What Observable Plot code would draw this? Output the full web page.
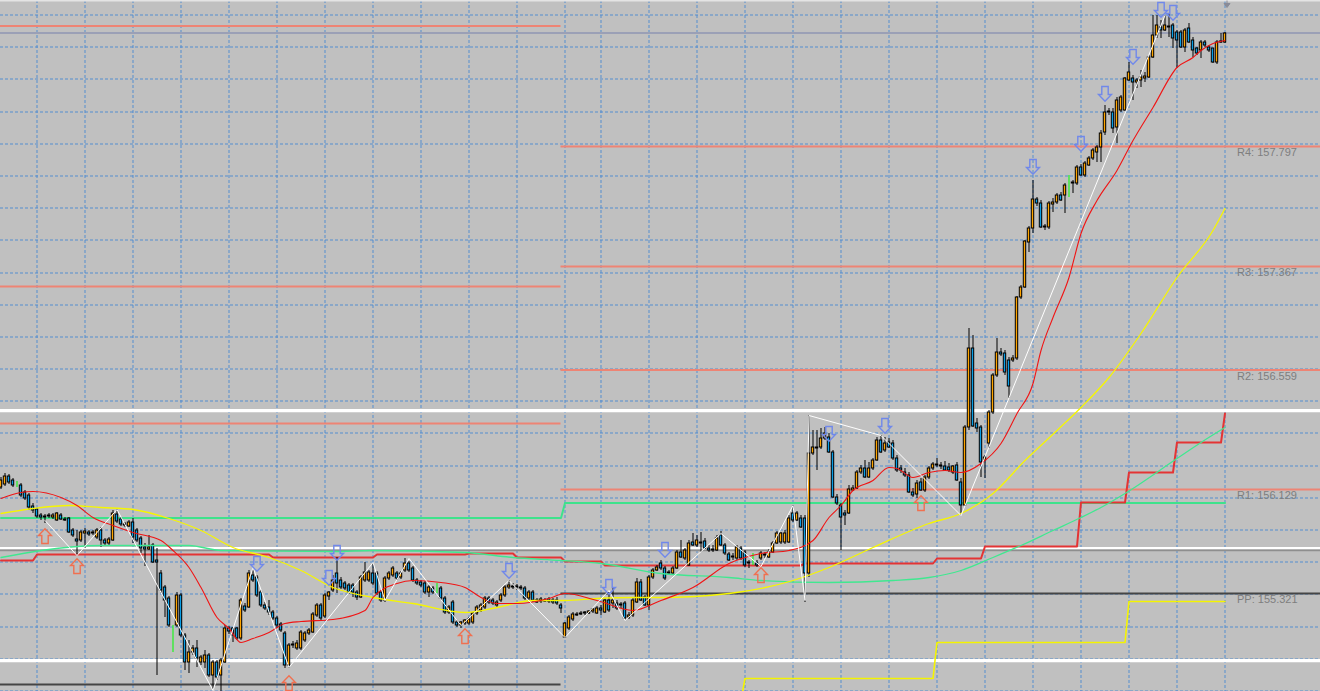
<!DOCTYPE html>
<html><head><meta charset="utf-8">
<script src="https://cdn.jsdelivr.net/npm/d3@7"></script>
<script src="https://cdn.jsdelivr.net/npm/@observablehq/plot@0.6"></script>
<style>html,body{margin:0;padding:0;background:#c0c0c0;overflow:hidden}#chart svg{display:block}</style>
</head><body><div id="chart"></div>
<script>
// ---- candle data (bar index = position in array) ----
const open = [
156.065,156.080,156.120,156.100,156.080,156.075,156.040,156.025,155.970,155.955,
155.925,155.915,155.920,155.915,155.900,155.925,155.905,155.910,155.850,155.805,
155.800,155.835,155.840,155.835,155.815,155.850,155.800,155.785,155.800,155.930,
155.905,155.880,155.870,155.890,155.850,155.810,155.765,155.755,155.775,155.700,
155.635,155.565,155.510,155.310,155.375,155.525,155.325,155.190,155.240,155.260,
155.190,155.190,155.225,155.125,155.190,155.125,155.190,155.360,155.360,155.360,
155.310,155.470,155.465,155.625,155.615,155.540,155.475,155.465,155.440,155.410,
155.380,155.335,155.175,155.280,155.260,155.260,155.300,155.335,155.340,155.425,
155.475,155.420,155.520,155.550,155.635,155.600,155.585,155.575,155.575,155.540,
155.515,155.600,155.600,155.635,155.635,155.540,155.500,155.610,155.625,155.635,
155.615,155.650,155.685,155.660,155.600,155.590,155.585,155.540,155.560,155.560,
155.560,155.510,155.440,155.490,155.390,155.375,155.385,155.385,155.390,155.435,
155.450,155.465,155.510,155.500,155.475,155.500,155.525,155.565,155.570,155.570,
155.565,155.560,155.510,155.540,155.500,155.495,155.500,155.505,155.500,155.500,
155.475,155.315,155.360,155.405,155.430,155.435,155.435,155.435,155.445,155.435,
155.460,155.440,155.500,155.485,155.485,155.475,155.485,155.415,155.425,155.490,
155.590,155.515,155.475,155.615,155.650,155.685,155.660,155.635,155.635,155.660,
155.740,155.710,155.675,155.790,155.775,155.790,155.795,155.760,155.755,155.750,
155.825,155.775,155.730,155.720,155.710,155.760,155.740,155.690,155.705,155.685,
155.710,155.730,155.715,155.740,155.785,155.790,155.790,155.790,155.935,155.900,
155.910,155.910,155.635,156.235,156.265,156.265,156.310,156.315,156.240,156.015,
155.975,155.935,155.935,156.050,156.060,156.140,156.160,156.115,156.160,156.200,
156.300,156.250,156.290,156.285,156.210,156.160,156.140,156.125,156.040,156.030,
156.090,156.050,156.115,156.160,156.180,156.175,156.170,156.165,156.140,156.175,
156.090,155.975,156.365,156.760,156.385,156.365,156.200,156.285,156.440,156.625,
156.740,156.735,156.700,156.700,156.710,157.015,157.065,157.290,157.360,157.505,
157.485,157.370,157.365,157.480,157.490,157.525,157.525,157.570,157.585,157.585,
157.665,157.625,157.675,157.710,157.740,157.765,157.840,157.940,157.940,157.865,
157.950,157.950,158.100,158.110,158.090,158.100,158.110,158.115,158.215,158.325,
158.365,158.350,158.365,158.375,158.340,158.340,158.265,158.360,158.300,158.260,
158.250,158.290,158.265,158.260,158.190,158.290,158.290];
const high = [
156.115,156.135,156.130,156.110,156.095,156.085,156.050,156.035,155.985,155.960,
155.935,155.930,155.935,155.935,155.940,155.935,155.915,155.915,155.860,155.850,
155.850,155.860,155.850,155.850,155.860,155.865,155.810,155.815,155.950,155.955,
155.915,155.890,155.900,155.910,155.860,155.820,155.785,155.825,155.785,155.760,
155.650,155.575,155.520,155.375,155.540,155.535,155.335,155.300,155.275,155.300,
155.225,155.250,155.235,155.200,155.200,155.210,155.375,155.370,155.365,155.365,
155.510,155.485,155.650,155.660,155.625,155.550,155.490,155.500,155.450,155.420,
155.390,155.345,155.285,155.295,155.300,155.350,155.345,155.360,155.440,155.485,
155.485,155.535,155.545,155.625,155.715,155.615,155.595,155.585,155.585,155.550,
155.625,155.690,155.650,155.685,155.645,155.550,155.620,155.645,155.670,155.645,
155.645,155.710,155.695,155.670,155.610,155.600,155.595,155.575,155.570,155.585,
155.570,155.520,155.475,155.500,155.400,155.395,155.405,155.415,155.440,155.475,
155.485,155.520,155.520,155.510,155.500,155.535,155.575,155.600,155.585,155.580,
155.575,155.570,155.550,155.550,155.510,155.515,155.510,155.515,155.510,155.515,
155.485,155.390,155.425,155.440,155.440,155.445,155.445,155.450,155.460,155.470,
155.475,155.510,155.540,155.560,155.500,155.490,155.495,155.440,155.510,155.610,
155.605,155.525,155.625,155.660,155.675,155.700,155.670,155.650,155.670,155.750,
155.800,155.760,155.800,155.835,155.825,155.840,155.810,155.775,155.775,155.825,
155.845,155.785,155.740,155.735,155.775,155.770,155.750,155.700,155.735,155.700,
155.745,155.740,155.755,155.795,155.845,155.840,155.850,155.925,155.975,155.945,
155.925,155.925,156.425,156.350,156.350,156.360,156.365,156.335,156.250,156.030,
155.985,155.950,156.075,156.075,156.150,156.175,156.200,156.190,156.210,156.315,
156.325,156.315,156.310,156.300,156.225,156.175,156.160,156.140,156.060,156.100,
156.110,156.125,156.170,156.190,156.210,156.190,156.195,156.185,156.175,156.190,
156.110,156.375,156.860,156.825,156.410,156.375,156.225,156.450,156.635,156.810,
156.760,156.750,156.715,156.725,157.020,157.075,157.300,157.370,157.600,157.515,
157.500,157.380,157.495,157.510,157.535,157.540,157.585,157.625,157.600,157.675,
157.680,157.695,157.720,157.760,157.775,157.850,157.975,157.960,157.960,158.015,
158.025,158.115,158.190,158.125,158.110,158.150,158.140,158.225,158.425,158.425,
158.400,158.425,158.435,158.385,158.350,158.350,158.360,158.385,158.315,158.265,
158.300,158.300,158.275,158.260,158.300,158.335,158.340];
const low = [
156.055,156.070,156.080,156.065,156.065,156.015,156.000,155.950,155.935,155.910,
155.900,155.885,155.910,155.905,155.895,155.900,155.895,155.835,155.815,155.725,
155.790,155.760,155.820,155.825,155.805,155.765,155.775,155.775,155.795,155.885,
155.870,155.865,155.865,155.785,155.790,155.735,155.670,155.750,155.685,155.125,
155.535,155.415,155.365,155.240,155.365,155.315,155.150,155.135,155.225,155.165,
155.175,155.160,155.115,155.050,155.100,155.045,155.185,155.330,155.290,155.300,
155.300,155.440,155.460,155.590,155.515,155.465,155.450,155.425,155.400,155.360,
155.340,155.160,155.160,155.260,155.250,155.250,155.290,155.325,155.335,155.415,
155.400,155.410,155.500,155.540,155.535,155.555,155.550,155.530,155.515,155.500,
155.510,155.590,155.590,155.575,155.525,155.490,155.490,155.600,155.615,155.600,
155.605,155.640,155.640,155.590,155.575,155.565,155.530,155.515,155.530,155.535,
155.500,155.430,155.430,155.380,155.365,155.360,155.375,155.375,155.380,155.425,
155.440,155.455,155.480,155.475,155.465,155.490,155.515,155.555,155.555,155.550,
155.550,155.500,155.500,155.490,155.485,155.485,155.490,155.485,155.480,155.475,
155.435,155.310,155.350,155.395,155.420,155.425,155.425,155.430,155.435,155.430,
155.425,155.435,155.440,155.460,155.450,155.460,155.400,155.405,155.415,155.485,
155.495,155.470,155.450,155.605,155.645,155.650,155.600,155.625,155.625,155.655,
155.710,155.700,155.670,155.770,155.765,155.740,155.755,155.740,155.740,155.745,
155.770,155.725,155.695,155.700,155.700,155.700,155.665,155.660,155.675,155.665,
155.700,155.710,155.710,155.735,155.780,155.780,155.780,155.785,155.890,155.895,
155.860,155.490,155.615,156.225,156.150,156.255,156.300,156.235,156.010,155.975,
155.750,155.875,155.930,156.045,156.055,156.130,156.110,156.110,156.150,156.195,
156.235,156.240,156.260,156.200,156.140,156.135,156.115,156.035,156.015,156.010,
156.045,156.040,156.105,156.150,156.165,156.155,156.145,156.140,156.130,156.095,
155.925,155.970,156.350,156.365,156.340,156.115,156.110,156.260,156.430,156.615,
156.720,156.625,156.510,156.690,156.700,157.005,157.060,157.240,157.335,157.470,
157.360,157.350,157.355,157.440,157.480,157.495,157.435,157.515,157.535,157.575,
157.620,157.615,157.670,157.700,157.690,157.690,157.825,157.925,157.835,157.785,
157.940,157.945,158.095,158.000,158.060,158.065,158.090,158.110,158.210,158.310,
158.310,158.345,158.315,158.260,158.160,158.260,158.240,158.285,158.215,158.225,
158.210,158.265,158.240,158.185,158.180,158.285,158.285];
const close = [
156.100,156.120,156.090,156.075,156.080,156.025,156.010,155.965,155.950,155.920,
155.915,155.920,155.925,155.925,155.935,155.905,155.900,155.840,155.825,155.795,
155.840,155.845,155.830,155.840,155.850,155.800,155.785,155.805,155.935,155.895,
155.880,155.875,155.890,155.815,155.800,155.760,155.755,155.765,155.690,155.690,
155.550,155.500,155.375,155.310,155.525,155.325,155.190,155.240,155.260,155.210,
155.215,155.225,155.125,155.190,155.115,155.200,155.360,155.345,155.325,155.310,
155.500,155.450,155.635,155.600,155.525,155.475,155.460,155.440,155.410,155.375,
155.350,155.175,155.275,155.275,155.285,155.340,155.335,155.350,155.430,155.475,
155.410,155.525,155.540,155.600,155.585,155.565,155.560,155.540,155.540,155.515,
155.615,155.640,155.640,155.585,155.535,155.500,155.610,155.635,155.660,155.610,
155.635,155.685,155.650,155.600,155.585,155.575,155.540,155.565,155.540,155.560,
155.510,155.440,155.465,155.390,155.375,155.390,155.400,155.405,155.435,155.465,
155.475,155.510,155.490,155.485,155.490,155.525,155.565,155.575,155.565,155.565,
155.560,155.510,155.540,155.500,155.490,155.505,155.495,155.495,155.490,155.485,
155.460,155.385,155.415,155.430,155.425,155.430,155.440,155.445,155.455,155.460,
155.450,155.500,155.450,155.500,155.460,155.480,155.410,155.425,155.500,155.590,
155.500,155.475,155.615,155.650,155.665,155.660,155.610,155.640,155.660,155.740,
155.715,155.750,155.785,155.775,155.800,155.785,155.760,155.750,155.750,155.810,
155.775,155.735,155.700,155.715,155.765,155.710,155.675,155.685,155.705,155.675,
155.735,155.725,155.740,155.785,155.835,155.835,155.835,155.910,155.900,155.935,
155.865,155.635,156.235,156.265,156.260,156.310,156.335,156.240,156.015,155.985,
155.915,155.925,156.055,156.060,156.140,156.160,156.115,156.160,156.200,156.300,
156.240,156.285,156.265,156.210,156.150,156.150,156.125,156.040,156.025,156.085,
156.050,156.115,156.160,156.180,156.175,156.170,156.150,156.150,156.170,156.100,
155.975,156.365,156.760,156.370,156.360,156.190,156.215,156.440,156.625,156.740,
156.730,156.640,156.570,156.710,157.015,157.065,157.295,157.360,157.505,157.485,
157.365,157.365,157.485,157.490,157.525,157.500,157.575,157.570,157.590,157.665,
157.625,157.685,157.710,157.750,157.765,157.835,157.940,157.945,157.860,158.000,
158.015,158.110,158.140,158.090,158.100,158.115,158.120,158.215,158.325,158.375,
158.350,158.375,158.370,158.310,158.300,158.265,158.350,158.290,158.250,158.235,
158.290,158.275,158.250,158.190,158.290,158.295,158.335];

// ---- indicator lines: [bar, price] ----
const redMA = [[0,156.010],[5,156.040],[8,156.045],[15,156.015],[19,155.975],[23,155.915],[28,155.875],[33,155.840],[40,155.800],[43,155.750],[47,155.665],[50,155.565],[54,155.415],[57,155.360],[60,155.290],[63,155.310],[67,155.340],[71,155.385],[75,155.395],[83,155.405],[91,155.450],[93,155.515],[99,155.585],[103,155.600],[110,155.590],[116,155.565],[120,155.515],[124,155.485],[129,155.485],[137,155.510],[141,155.535],[149,155.500],[158,155.450],[165,155.500],[173,155.565],[182,155.685],[190,155.735],[197,155.750],[203,155.800],[207,155.915],[210,155.975],[213,156.050],[218,156.100],[222,156.165],[224,156.160],[228,156.115],[232,156.140],[236,156.150],[240,156.140],[245,156.185],[250,156.285],[254,156.435],[258,156.585],[260,156.750],[263,156.915],[267,157.115],[270,157.335],[274,157.500],[279,157.650],[283,157.800],[288,157.965],[294,158.165],[298,158.215],[300,158.250],[303,158.285],[306,158.300]];
const yellowMA = [[0,155.935],[8,155.960],[17,155.975],[25,155.965],[33,155.955],[42,155.910],[50,155.850],[58,155.765],[67,155.715],[75,155.650],[83,155.565],[93,155.515],[103,155.485],[116,155.440],[124,155.465],[133,155.500],[141,155.500],[149,155.510],[158,155.515],[165,155.515],[182,155.535],[198,155.600],[207,155.665],[218,155.765],[232,155.885],[240,155.935],[248,156.035],[256,156.200],[264,156.350],[270,156.465],[277,156.615],[285,156.835],[294,157.115],[303,157.350],[306,157.460]];
const greenMA = [[0,155.715],[10,155.750],[25,155.775],[47,155.775],[55,155.750],[83,155.745],[93,155.750],[116,155.740],[128,155.715],[140,155.700],[150,155.685],[165,155.635],[182,155.615],[190,155.600],[207,155.590],[223,155.600],[232,155.615],[240,155.650],[248,155.715],[255,155.775],[263,155.850],[270,155.915],[275,155.965],[281,156.035],[294,156.210],[300,156.290],[306,156.365]];
const redStep = [[0,155.700],[8,155.700],[9,155.730],[67,155.730],[68,155.715],[93,155.715],[94,155.730],[116,155.730],[117,155.735],[128,155.735],[129,155.715],[140,155.715],[141,155.695],[150,155.695],[151,155.675],[200,155.675],[201,155.685],[233,155.685],[234,155.710],[245,155.710],[246,155.770],[269,155.770],[270,155.990],[281,155.990],[282,156.140],[293,156.140],[294,156.290],[305,156.290],[306,156.435]];
const yellowStep = [[185,155.000],[186,155.110],[233,155.110],[234,155.290],[281,155.290],[282,155.495],[306,155.495]];
const zigzag = [[11,155.900],[19,155.725],[29,155.955],[53,155.050],[63,155.665],[72,155.165],[93,155.690],[96,155.500],[102,155.710],[115,155.375],[127,155.600],[141,155.315],[152,155.550],[156,155.400],[180,155.835],[190,155.670],[198,155.975],[201,155.500],[202,156.425],[220,156.325],[240,155.925],[291,158.425]];
const downArrows = [[64,155.680],[82,155.610],[84,155.735],[127,155.645],[152,155.565],[166,155.750],[207,156.330],[221,156.370],[258,157.665],[270,157.780],[276,158.030],[283,158.215],[290,158.450],[293,158.435]];
const upArrows = [[11,155.825],[19,155.675],[72,155.090],[116,155.325],[190,155.630],[230,155.990]];

// ---- horizontal levels ----
const sessionBreak = 140;             // bar where the current pivot set begins
const leftRed = [158.372, 157.070, 156.385];
const leftPP = 155.080;
const rightRed = [157.770, 157.170, 156.653, 156.055];
const rightPP = 155.535;
const greenPivot = [[0,155.912],[140,155.912],[141,155.987],[306,155.987]];
const grayTop = 158.337;
const whiteWide = [156.449, 155.199];
const whiteMid = 155.762;
const grayUnder = 155.750;
const pivotNames = ["R4: 157.797","R3: 157.367","R2: 156.559","R1: 156.129","PP: 155.321"];
const pivotLevels = [157.770, 157.170, 156.653, 156.055, 155.535];

// ---- grid ----
const gridBars = [9,21,33,45,57,69,81,93,105,117,129,141,150,162,174,186,198,210,222,234,246,258,270,282,294,306];
const gridPrices = [158.4275,158.2675,158.1075,157.9425,157.7825,157.6225,157.4625,157.3025,157.1375,156.9775,156.8175,156.6575,156.4975,156.3375,156.1725,156.0125,155.8525,155.6925,155.5325,155.3675,155.2075,155.0475];

const bars = open.map((o,i)=>({i, o, h:high[i], l:low[i], c:close[i]}));
const lastBar = bars.length - 1;
const bodies = bars.filter(d => d.o !== d.c);
const BULL = "#ffa500", BEAR = "#0a9ee6";
const yDomain = [155.045, 158.5];

const downSym = {draw(ctx){ctx.moveTo(-3.2,-8);ctx.lineTo(3.2,-8);ctx.lineTo(3.2,0);ctx.lineTo(6.5,0);ctx.lineTo(0,6.8);ctx.lineTo(-6.5,0);ctx.lineTo(-3.2,0);ctx.closePath();}};
const upSym = {draw(ctx){ctx.moveTo(-3.2,8);ctx.lineTo(3.2,8);ctx.lineTo(3.2,0);ctx.lineTo(6.5,0);ctx.lineTo(0,-6.8);ctx.lineTo(-6.5,0);ctx.lineTo(-3.2,0);ctx.closePath();}};
const shiftSym = {draw(ctx){ctx.moveTo(-3,0);ctx.lineTo(3,0);ctx.lineTo(0,4);ctx.closePath();ctx.moveTo(0,-3);ctx.lineTo(0,0);}};

const X = d => d[0], Y = d => d[1];
const grid = {stroke:"#4a8bd2", strokeWidth:1, strokeDasharray:"3,2", strokeOpacity:0.9};

const chart = Plot.plot({
  width:1320, height:691, margin:0,
  x:{domain:[-0.125, 329.875], axis:null},
  y:{domain:yDomain, axis:null},
  color:{type:"identity"},
  style:{background:"#c0c0c0", overflow:"hidden"},
  marks:[
    Plot.ruleX(gridBars, grid),
    Plot.ruleY(gridPrices, grid),
    Plot.ruleY([yDomain[1]], {stroke:"#e4e4e4", strokeWidth:2}),
    Plot.ruleY([grayTop], {stroke:"#9ba0b6", strokeWidth:2}),
    Plot.ruleY(leftRed, {x1:-0.125, x2:sessionBreak, stroke:"#ee8474", strokeWidth:2}),
    Plot.ruleY([leftPP], {x1:-0.125, x2:sessionBreak, stroke:"#454545", strokeWidth:2}),
    Plot.ruleY(rightRed, {x1:sessionBreak, x2:329.875, stroke:"#ee8474", strokeWidth:2}),
    Plot.ruleY([rightPP], {x1:sessionBreak, x2:329.875, stroke:"#454545", strokeWidth:2}),
    Plot.line(greenPivot, {x:X, y:Y, stroke:"#3ee28c", strokeWidth:2}),
    Plot.ruleY(whiteWide, {stroke:"#ffffff", strokeWidth:3.2}),
    Plot.ruleY([grayUnder], {stroke:"#8e8e8e", strokeWidth:1.5}),
    Plot.ruleY([whiteMid], {stroke:"#ffffff", strokeWidth:2}),
    Plot.line(redStep, {x:X, y:Y, stroke:"#e43434", strokeWidth:2}),
    Plot.line(yellowStep, {x:X, y:Y, stroke:"#f4f400", strokeWidth:1.6, clip:true}),
    Plot.ruleX(bars, {x:"i", y1:"l", y2:"h", stroke:d => d.o === d.c ? "#00ff00" : "#000000", strokeWidth:1}),
    Plot.rect(bodies, {x1:d => d.i - 0.3, x2:d => d.i + 0.3, y1:"o", y2:"c", fill:d => d.c > d.o ? BULL : BEAR, stroke:"#000000", strokeWidth:1}),
    Plot.line(greenMA, {x:X, y:Y, curve:"monotone-x", stroke:"#40e890", strokeWidth:1.3}),
    Plot.line(yellowMA, {x:X, y:Y, curve:"monotone-x", stroke:"#f6f600", strokeWidth:1.3}),
    Plot.line(redMA, {x:X, y:Y, curve:"monotone-x", stroke:"#f01414", strokeWidth:1.1}),
    Plot.line(zigzag, {x:X, y:Y, stroke:"#ffffff", strokeWidth:1}),
    Plot.dot(downArrows, {x:X, y:Y, symbol:downSym, fill:"none", stroke:"#7088ea", strokeWidth:1.4}),
    Plot.dot(upArrows, {x:X, y:Y, symbol:upSym, fill:"none", stroke:"#f07050", strokeWidth:1.4}),
    Plot.dot([lastBar + 0.5], {x:d => d, y:() => yDomain[1], dy:3, symbol:shiftSym, fill:"#8a8c98", stroke:"#8a8c98", strokeWidth:1}),
    Plot.text(pivotNames, {x:() => lastBar + 3, y:(d,i) => pivotLevels[i], text:d => d, textAnchor:"start", lineAnchor:"top", dy:2, fill:"#7e7e7e", fontSize:11, fontFamily:"Liberation Sans, Arial, sans-serif"})
  ]
});
document.getElementById("chart").appendChild(chart);
</script>
</body></html>
